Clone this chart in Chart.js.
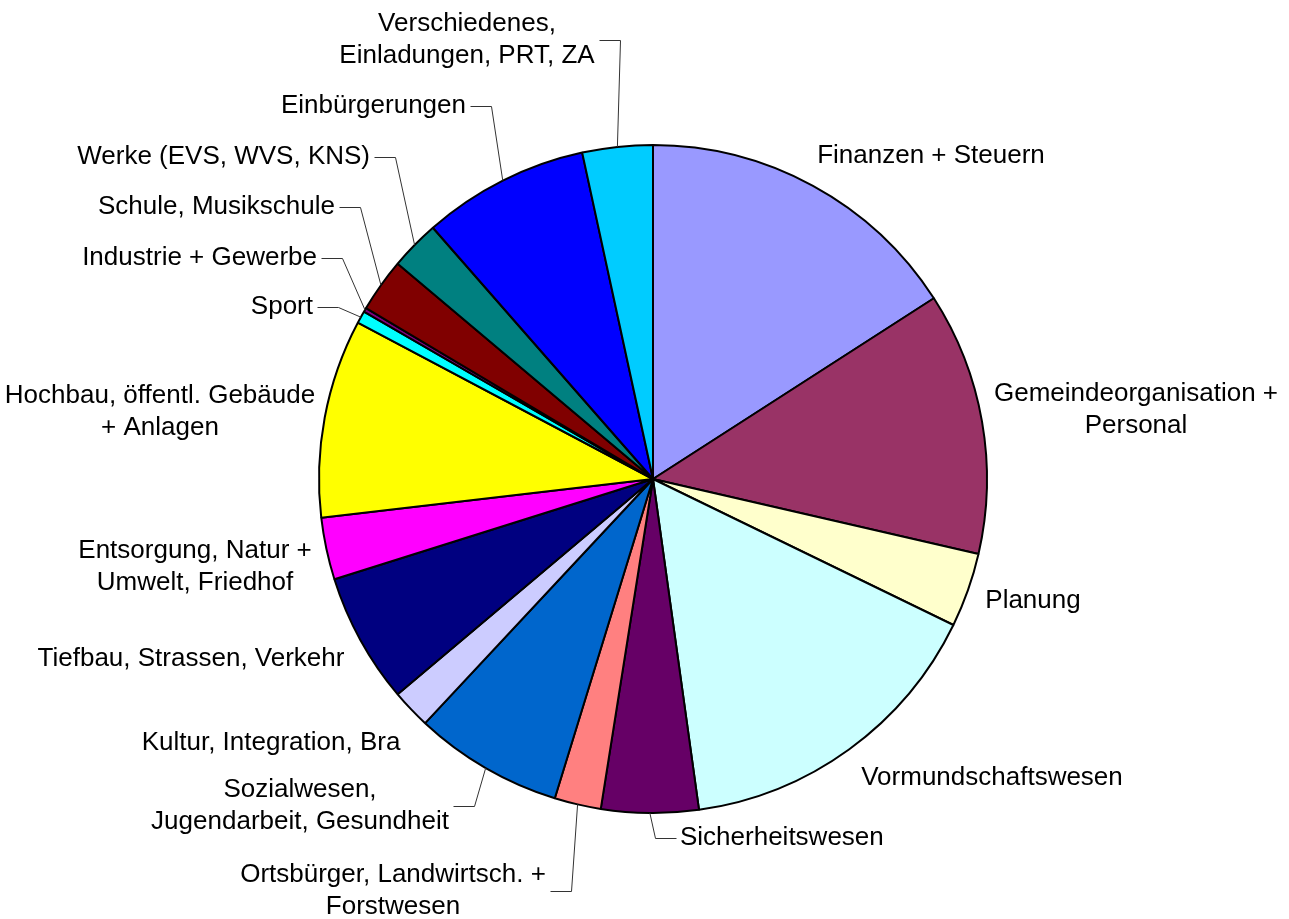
<!DOCTYPE html>
<html>
<head>
<meta charset="utf-8">
<script src="https://cdn.jsdelivr.net/npm/chart.js@4.4.0/dist/chart.umd.min.js"></script>
<style>
  html, body { margin: 0; padding: 0; background: #fff; }
  #pie { display: block; }
</style>
</head>
<body>
<canvas id="pie" width="1289" height="919"></canvas>
<script>
// Slices, clockwise from 12 o'clock (share in %)
const categories = [
  'Finanzen + Steuern',
  'Gemeindeorganisation +\nPersonal',
  'Planung',
  'Vormundschaftswesen',
  'Sicherheitswesen',
  'Ortsbürger, Landwirtsch. +\nForstwesen',
  'Sozialwesen,\nJugendarbeit, Gesundheit',
  'Kultur, Integration, Bra',
  'Tiefbau, Strassen, Verkehr',
  'Entsorgung, Natur +\nUmwelt, Friedhof',
  'Hochbau, öffentl. Gebäude\n+ Anlagen',
  'Sport',
  'Industrie + Gewerbe',
  'Schule, Musikschule',
  'Werke (EVS, WVS, KNS)',
  'Einbürgerungen',
  'Verschiedenes,\nEinladungen, PRT, ZA'
];
const values = [15.9, 12.7, 3.6, 15.6, 4.7, 2.25, 7.2, 1.9, 6.3, 3.0, 9.6, 0.6, 0.2, 2.6, 2.4, 8.05, 3.4];
const colors = [
  '#9999FF', '#993366', '#FFFFCC', '#CCFFFF', '#660066', '#FF8080',
  '#0066CC', '#CCCCFF', '#000080', '#FF00FF', '#FFFF00', '#00FFFF',
  '#800080', '#800000', '#008080', '#0000FF', '#00CCFF'
];

// label placement, relative to the pie centre (x = anchor per align)
const labelLayout = [
  { dx: 278,  dy: -323, align: 'center' },
  { dx: 483,  dy: -69,  align: 'center' },
  { dx: 380,  dy: 122,  align: 'center' },
  { dx: 339,  dy: 299,  align: 'center' },
  { dx: 27,   dy: 359,  align: 'left',   leader: 'left' },
  { dx: -260, dy: 412,  align: 'center', leader: 'right' },
  { dx: -353, dy: 327,  align: 'center', leader: 'right' },
  { dx: -382, dy: 264,  align: 'center' },
  { dx: -462, dy: 180,  align: 'center' },
  { dx: -458, dy: 88,   align: 'center' },
  { dx: -493, dy: -67,  align: 'center' },
  { dx: -340, dy: -172, align: 'right',  leader: 'right' },
  { dx: -336, dy: -221, align: 'right',  leader: 'right' },
  { dx: -318, dy: -272, align: 'right',  leader: 'right' },
  { dx: -283, dy: -322, align: 'right',  leader: 'right' },
  { dx: -187, dy: -373, align: 'right',  leader: 'right' },
  { dx: -186, dy: -439, align: 'center', leader: 'right' }
];

const FONT = '26px "Liberation Sans", Arial, sans-serif';
const LINE_H = 32;

const outsideLabels = {
  id: 'outsideLabels',
  afterDraw(chart) {
    const ctx = chart.ctx;
    const meta = chart.getDatasetMeta(0);
    ctx.save();
    ctx.font = FONT;
    ctx.fillStyle = '#000';
    ctx.textBaseline = 'middle';

    meta.data.forEach((arc, i) => {
      const p = arc.getProps(['x', 'y', 'outerRadius', 'startAngle', 'endAngle'], true);
      const L = labelLayout[i];
      const lines = categories[i].split('\n');
      const bx = p.x + L.dx;
      const by = p.y + L.dy;
      const maxW = Math.max(...lines.map(s => ctx.measureText(s).width));

      let left, right;
      if (L.align === 'center') { left = bx - maxW / 2; right = bx + maxW / 2; }
      else if (L.align === 'right') { left = bx - maxW; right = bx; }
      else { left = bx; right = bx + maxW; }

      lines.forEach((s, k) => {
        const y = by + (k - (lines.length - 1) / 2) * LINE_H;
        ctx.textAlign = 'center';
        ctx.fillText(s, (left + right) / 2, y);
      });

      if (L.leader) {
        // leader: text edge -> short horizontal -> slice rim at mid-angle
        const mid = (p.startAngle + p.endAngle) / 2;
        const px = p.x + Math.cos(mid) * p.outerRadius;
        const py = p.y + Math.sin(mid) * p.outerRadius;
        const ex = L.leader === 'right' ? right + 4 : left - 4;
        const elx = L.leader === 'right' ? ex + 21 : ex - 21;
        ctx.beginPath();
        ctx.strokeStyle = '#333';
        ctx.lineWidth = 1;
        ctx.moveTo(Math.round(ex) + 0.5, Math.round(by) + 0.5);
        ctx.lineTo(Math.round(elx) + 0.5, Math.round(by) + 0.5);
        ctx.lineTo(px, py);
        ctx.stroke();
      }
    });
    ctx.restore();
  }
};

new Chart(document.getElementById('pie').getContext('2d'), {
  type: 'pie',
  data: {
    labels: categories,
    datasets: [{
      data: values,
      backgroundColor: colors,
      borderColor: '#000',
      borderWidth: 2,
      hoverOffset: 0
    }]
  },
  options: {
    responsive: false,
    animation: false,
    radius: 334,
    layout: { padding: { left: 17, top: 39, right: 0, bottom: 0 } },
    plugins: { legend: { display: false }, tooltip: { enabled: false } }
  },
  plugins: [outsideLabels]
});
</script>
</body>
</html>
